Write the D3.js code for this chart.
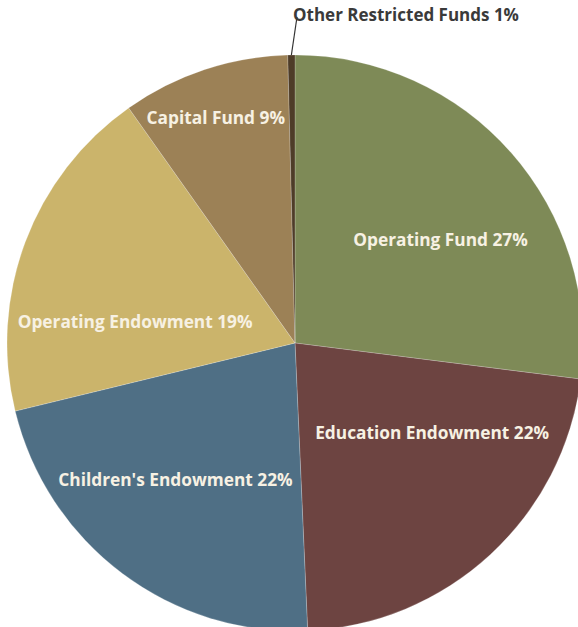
<!DOCTYPE html>
<html>
<head>
<meta charset="utf-8">
<script src="https://cdn.jsdelivr.net/npm/d3@7"></script>
<style>
  body { margin: 0; background: #fff; }
  svg text { font-family: "Open Sans", sans-serif; font-weight: bold; }
</style>
</head>
<body>
<div id="chart"></div>
<script>
var svgWidth = 578;
var svgHeight = 627;

// values (shares of the circle), labels show rounded %
var funds = ["Operating Fund", "Education Endowment", "Children's Endowment",
  "Operating Endowment", "Capital Fund", "Other Restricted Funds"];
var shares = [27, 22.3, 21.9, 19, 9.4, 0.4];
var pctLabels = ["27%", "22%", "22%", "19%", "9%", "1%"];
var colors = ["#7e8a57", "#6d4441", "#4f6f85", "#cbb46b", "#9c8156", "#4e3c28"];

var cx = 295, cy = 343, radius = 288;

// where the label sits: angle shift from slice middle (deg) and radius factor
var labelPlace = {
  "Operating Fund": { da: 6, rf: 0.62 },
  "Education Endowment": { da: -14, rf: 0.57 },
  "Children's Endowment": { da: 4.3, rf: 0.63 },
  "Operating Endowment": { da: -13, rf: 0.56 },
  "Capital Fund": { da: -1, rf: 0.83 }
};

var data = funds.map((f, i) => ({ name: f, value: shares[i], pct: pctLabels[i], color: colors[i] }));

var svg = d3.select("#chart")
  .append("svg")
  .attr("width", svgWidth)
  .attr("height", svgHeight);

var g = svg.append("g")
  .attr("transform", `translate(${cx}, ${cy})`);

var pie = d3.pie()
  .sort(null)
  .value(d => d.value);

var arc = d3.arc()
  .innerRadius(0)
  .outerRadius(radius);

var arcs = pie(data);

g.selectAll("path")
  .data(arcs)
  .enter()
  .append("path")
  .attr("d", arc)
  .attr("fill", d => d.data.color)
  .attr("stroke", "rgba(255,255,255,0.25)")
  .attr("stroke-width", 0.8);

function polar(angle, r) {
  return [r * Math.sin(angle), -r * Math.cos(angle)];
}

g.selectAll("text.inside")
  .data(arcs.filter(d => labelPlace[d.data.name]))
  .enter()
  .append("text")
  .attr("class", "inside")
  .attr("transform", function(d) {
    var lp = labelPlace[d.data.name];
    var mid = (d.startAngle + d.endAngle) / 2 + lp.da * Math.PI / 180;
    var p = polar(mid, radius * lp.rf);
    return `translate(${p[0]}, ${p[1]})`;
  })
  .attr("text-anchor", "middle")
  .attr("dy", "0.35em")
  .attr("font-size", "17.3px")
  .attr("fill", "#f7f1e3")
  .text(d => d.data.name + " " + d.data.pct);

// outside label with leader line for the tiny slice
var other = arcs[arcs.length - 1];
var otherMid = (other.startAngle + other.endAngle) / 2;
var p0 = polar(otherMid, radius);

g.append("line")
  .attr("x1", p0[0])
  .attr("y1", p0[1])
  .attr("x2", 2)
  .attr("y2", -cy + 17)
  .attr("stroke", "#333")
  .attr("stroke-width", 1.2);

g.append("text")
  .attr("x", -2)
  .attr("y", -cy + 21)
  .attr("font-size", "17px")
  .attr("fill", "#3a3a3a")
  .text(other.data.name + " " + other.data.pct);
</script>
</body>
</html>
